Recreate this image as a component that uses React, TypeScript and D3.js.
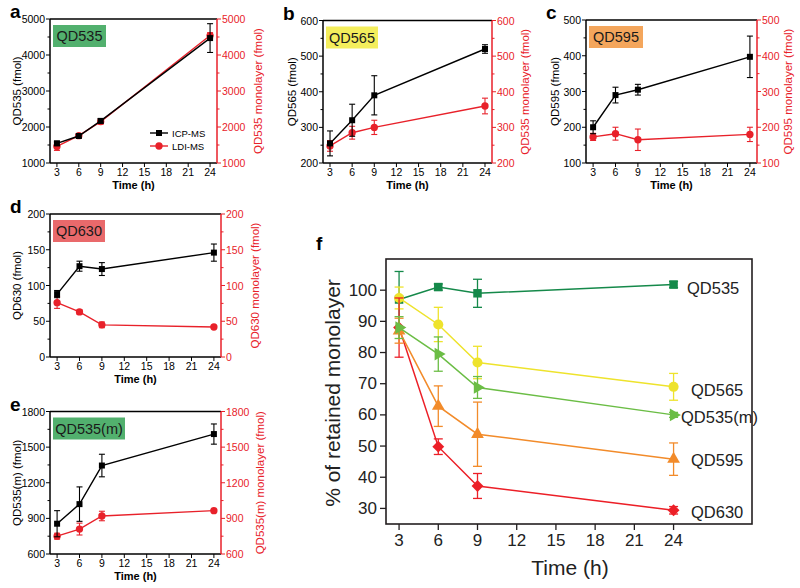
import React from 'react';
import * as d3 from 'd3';

// shared time points (h)
const times = [3, 6, 9, 24];
const xTicks = [3, 6, 9, 12, 15, 18, 21, 24];

// panel a - QD535
const aIcp = [1545, 1750, 2170, 4470];
const aIcpErr = [60, 50, 60, 400];
const aLdi = [1460, 1760, 2150, 4540];
const aLdiErr = [110, 40, 70, 80];

// panel b - QD565
const bIcp = [255, 320, 390, 520];
const bIcpErr = [35, 45, 55, 12];
const bLdi = [248, 285, 300, 360];
const bLdiErr = [15, 18, 20, 22];

// panel c - QD595
const cIcp = [200, 290, 305, 397];
const cIcpErr = [18, 22, 15, 58];
const cLdi = [173, 182, 165, 180];
const cLdiErr = [10, 18, 30, 20];

// panel d - QD630
const dIcp = [88, 127, 123, 146];
const dIcpErr = [5, 7, 9, 12];
const dLdi = [76, 63, 45, 42];
const dLdiErr = [8, 3, 4, 2];

// panel e - QD535(m)
const eIcp = [855, 1020, 1345, 1610];
const eIcpErr = [110, 145, 95, 85];
const eLdi = [750, 810, 920, 965];
const eLdiErr = [25, 50, 40, 10];

// panel f - % retained monolayer
const fNames = ['QD535', 'QD565', 'QD630', 'QD595', 'QD535(m)'];
const fQD535 = [97, 101, 99, 101.8];
const fQD535Err = [9, 1, 4.5, 1];
const fQD565 = [97.5, 89, 76.8, 69];
const fQD565Err = [3.5, 5.5, 5.2, 4.3];
const fQD535m = [88, 79.5, 68.8, 60];
const fQD535mErr = [3.5, 5.5, 3.5, 0.8];
const fQD595 = [87, 62.8, 53.8, 45.8];
const fQD595Err = [4, 6.5, 10.3, 5.2];
const fQD630 = [88, 49.8, 37.2, 29.4];
const fQD630Err = [9.5, 2.5, 4, 1.2];
const fYTicks = [30, 40, 50, 60, 70, 80, 90, 100];

const FONT = '"Liberation Sans", Arial, Helvetica, sans-serif';
const RED = '#e8212a';

type Shape = 'square' | 'circle' | 'triangle' | 'triRight' | 'diamond';

const symbolPath = (shape: Shape, size: number) => {
  const t =
    shape === 'square' ? d3.symbolSquare :
    shape === 'circle' ? d3.symbolCircle :
    shape === 'diamond' ? d3.symbolDiamond2 : d3.symbolTriangle;
  return d3.symbol().type(t).size(size)() as string;
};

interface SmallProps {
  left: number; top: number; width: number; height: number;
  letter: string; name: string; boxColor: string; boxWidth: number;
  domain: [number, number]; step: number;
  icp: number[]; icpErr: number[]; ldi: number[]; ldiErr: number[];
  leftLabel: string; rightLabel: string;
  leftDx: number; rightDx: number;
  legend?: boolean;
}

const SmallPanel: React.FC<SmallProps> = (p) => {
  const x = d3.scaleLinear().domain([2.05, 24.95]).range([p.left, p.left + p.width]);
  const y = d3.scaleLinear().domain(p.domain).range([p.top + p.height, p.top]);
  const R = p.left + p.width;
  const B = p.top + p.height;
  const major = d3.range(p.domain[0], p.domain[1] + 0.001, p.step);
  const minor = d3.range(p.domain[0] + p.step / 2, p.domain[1], p.step);
  const line = d3.line<number>().x((_, i) => x(times[i])).y(v => y(v));
  const sq = symbolPath('square', 36);
  const ci = symbolPath('circle', 42);

  const series = (vals: number[], errs: number[], color: string, shape: string) => (
    <g>
      <path d={line(vals) as string} fill="none" stroke={color} strokeWidth={1.4} />
      {vals.map((v, i) => (
        <g key={i} stroke={color} strokeWidth={1.1}>
          <line x1={x(times[i])} x2={x(times[i])} y1={y(v - errs[i])} y2={y(v + errs[i])} />
          <line x1={x(times[i]) - 3} x2={x(times[i]) + 3} y1={y(v - errs[i])} y2={y(v - errs[i])} />
          <line x1={x(times[i]) - 3} x2={x(times[i]) + 3} y1={y(v + errs[i])} y2={y(v + errs[i])} />
        </g>
      ))}
      {vals.map((v, i) => (
        <path key={'m' + i} d={shape} transform={`translate(${x(times[i])},${y(v)})`} fill={color} />
      ))}
    </g>
  );

  return (
    <g fontFamily={FONT}>
      <text x={p.left - 40} y={p.top - 1} fontSize={19} fontWeight="bold">{p.letter}</text>
      <rect x={p.left + 3} y={p.top + 6} width={p.boxWidth} height={22} fill={p.boxColor} />
      <text x={p.left + 3 + p.boxWidth / 2} y={p.top + 17} fontSize={14.5} textAnchor="middle"
        dominantBaseline="central" fill="#1a1a1a">{p.name}</text>
      {series(p.ldi, p.ldiErr, RED, ci)}
      {series(p.icp, p.icpErr, '#000', sq)}
      {/* frame */}
      <line x1={p.left} x2={R} y1={p.top} y2={p.top} stroke="#000" strokeWidth={1.5} />
      <line x1={p.left} x2={R} y1={B} y2={B} stroke="#000" strokeWidth={1.5} />
      <line x1={p.left} x2={p.left} y1={p.top} y2={B} stroke="#000" strokeWidth={1.5} />
      <line x1={R} x2={R} y1={p.top} y2={B} stroke={RED} strokeWidth={1.5} />
      {/* x axis */}
      {xTicks.map(t => (
        <g key={t}>
          <line x1={x(t)} x2={x(t)} y1={B} y2={B + 4} stroke="#000" strokeWidth={1} />
          <text x={x(t)} y={B + 13} fontSize={10.5} textAnchor="middle">{t}</text>
        </g>
      ))}
      {/* y axes */}
      {major.map(t => (
        <g key={t}>
          <line x1={p.left - 4} x2={p.left} y1={y(t)} y2={y(t)} stroke="#000" strokeWidth={1} />
          <text x={p.left - 5} y={y(t)} fontSize={10.5} textAnchor="end" dominantBaseline="central">{t}</text>
          <line x1={R} x2={R + 4} y1={y(t)} y2={y(t)} stroke={RED} strokeWidth={1} />
          <text x={R + 5} y={y(t)} fontSize={10.5} fill={RED} dominantBaseline="central">{t}</text>
        </g>
      ))}
      {minor.map(t => (
        <g key={'n' + t}>
          <line x1={p.left - 2.5} x2={p.left} y1={y(t)} y2={y(t)} stroke="#000" strokeWidth={1} />
          <line x1={R} x2={R + 2.5} y1={y(t)} y2={y(t)} stroke={RED} strokeWidth={1} />
        </g>
      ))}
      <text transform={`translate(${p.left + p.leftDx},${(p.top + B) / 2}) rotate(-90)`} fontSize={11.5}
        textAnchor="middle" dominantBaseline="central">{p.leftLabel}</text>
      <text transform={`translate(${R + p.rightDx},${(p.top + B) / 2}) rotate(-90)`} fontSize={11.5}
        textAnchor="middle" dominantBaseline="central" fill={RED}>{p.rightLabel}</text>
      <text x={(p.left + R) / 2} y={B + 26} fontSize={11} fontWeight="bold" textAnchor="middle">Time (h)</text>
      {p.legend && (
        <g fontSize={9.5}>
          <line x1={p.left + 100} x2={p.left + 118} y1={B - 30} y2={B - 30} stroke="#000" strokeWidth={1.4} />
          <path d={sq} transform={`translate(${p.left + 109},${B - 30})`} />
          <text x={p.left + 122} y={B - 30} dominantBaseline="central">ICP-MS</text>
          <line x1={p.left + 100} x2={p.left + 118} y1={B - 17} y2={B - 17} stroke={RED} strokeWidth={1.4} />
          <path d={ci} transform={`translate(${p.left + 109},${B - 17})`} fill={RED} />
          <text x={p.left + 122} y={B - 17} dominantBaseline="central">LDI-MS</text>
        </g>
      )}
    </g>
  );
};

const PanelF: React.FC = () => {
  const L = 386, R = 752, T = 259, B = 524;
  const x = d3.scaleLinear().domain([2, 30]).range([L, R]);
  const y = d3.scaleLinear().domain([25, 110]).range([B, T]);
  const line = d3.line<number>().x((_, i) => x(times[i])).y(v => y(v));
  const series = [
    { name: fNames[0], vals: fQD535, errs: fQD535Err, color: '#15894a', shape: 'square' as Shape, size: 72, lx: 687, dy: 3 },
    { name: fNames[1], vals: fQD565, errs: fQD565Err, color: '#eee32c', shape: 'circle' as Shape, size: 80, lx: 691, dy: 3 },
    { name: fNames[2], vals: fQD630, errs: fQD630Err, color: '#ec1f27', shape: 'diamond' as Shape, size: 90, lx: 691, dy: 2 },
    { name: fNames[3], vals: fQD595, errs: fQD595Err, color: '#f28b2a', shape: 'triangle' as Shape, size: 70, lx: 691, dy: 1 },
    { name: fNames[4], vals: fQD535m, errs: fQD535mErr, color: '#6bbd45', shape: 'triRight' as Shape, size: 70, lx: 681, dy: 2 },
  ];
  return (
    <g fontFamily={FONT}>
      <text x={316} y={250} fontSize={19} fontWeight="bold">f</text>
      {series.map(s => (
        <g key={s.name}>
          <path d={line(s.vals) as string} fill="none" stroke={s.color} strokeWidth={1.5} />
          {s.vals.map((v, i) => (
            <g key={i} stroke={s.color} strokeWidth={1.3}>
              <line x1={x(times[i])} x2={x(times[i])} y1={y(v - s.errs[i])} y2={y(v + s.errs[i])} />
              <line x1={x(times[i]) - 4.5} x2={x(times[i]) + 4.5} y1={y(v - s.errs[i])} y2={y(v - s.errs[i])} />
              <line x1={x(times[i]) - 4.5} x2={x(times[i]) + 4.5} y1={y(v + s.errs[i])} y2={y(v + s.errs[i])} />
            </g>
          ))}
          {s.vals.map((v, i) => (
            <path key={'m' + i} d={symbolPath(s.shape, s.size)} fill={s.color}
              transform={`translate(${x(times[i])},${y(v)})${s.shape === 'triRight' ? ' rotate(90)' : ''}`} />
          ))}
          <text x={s.lx} y={y(s.vals[3]) + s.dy} fontSize={16.5} dominantBaseline="central" fill="#222">{s.name}</text>
        </g>
      ))}
      <rect x={L} y={T} width={R - L} height={B - T} fill="none" stroke="#231f20" strokeWidth={1.6} />
      {xTicks.map(t => (
        <g key={t}>
          <line x1={x(t)} x2={x(t)} y1={B} y2={B + 6} stroke="#231f20" strokeWidth={1.3} />
          <text x={x(t)} y={B + 22} fontSize={17} textAnchor="middle" fill="#222">{t}</text>
        </g>
      ))}
      {fYTicks.map(t => (
        <g key={t}>
          <line x1={L - 6} x2={L} y1={y(t)} y2={y(t)} stroke="#231f20" strokeWidth={1.3} />
          <text x={L - 9} y={y(t)} fontSize={17} textAnchor="end" dominantBaseline="central" fill="#222">{t}</text>
        </g>
      ))}
      <text transform={`translate(332,393) rotate(-90)`} fontSize={21} textAnchor="middle"
        dominantBaseline="central" fill="#222">% of retained monolayer</text>
      <text x={570} y={575} fontSize={21} textAnchor="middle" fill="#222">Time (h)</text>
    </g>
  );
};

export default function App() {
  return (
    <svg width={800} height={588} style={{ position: 'absolute', left: 0, top: 0, background: '#fff' }}>
      <rect width={800} height={588} fill="#fff" />
      <SmallPanel left={50} top={19} width={167} height={144} letter="a" name="QD535" boxColor="#52b06e"
        boxWidth={53} domain={[1000, 5000]} step={1000} icp={aIcp} icpErr={aIcpErr} ldi={aLdi} ldiErr={aLdiErr}
        leftLabel="QD535 (fmol)" rightLabel="QD535 monolayer (fmol)" leftDx={-33} rightDx={41} legend />
      <SmallPanel left={323} top={20.5} width={169} height={142.5} letter="b" name="QD565" boxColor="#f4ee5c"
        boxWidth={52} domain={[200, 600]} step={100} icp={bIcp} icpErr={bIcpErr} ldi={bLdi} ldiErr={bLdiErr}
        leftLabel="QD565 (fmol)" rightLabel="QD535 monolayer (fmol)" leftDx={-31} rightDx={33} />
      <SmallPanel left={586} top={20} width={171} height={143} letter="c" name="QD595" boxColor="#f4a65c"
        boxWidth={54} domain={[100, 500]} step={100} icp={cIcp} icpErr={cIcpErr} ldi={cLdi} ldiErr={cLdiErr}
        leftLabel="QD595 (fmol)" rightLabel="QD595 monolayer (fmol)" leftDx={-31} rightDx={31} />
      <SmallPanel left={50} top={214} width={171} height={143} letter="d" name="QD630" boxColor="#e9696b"
        boxWidth={52} domain={[0, 200]} step={50} icp={dIcp} icpErr={dIcpErr} ldi={dLdi} ldiErr={dLdiErr}
        leftLabel="QD630 (fmol)" rightLabel="QD630 monolayer (fmol)" leftDx={-33} rightDx={34} />
      <SmallPanel left={50} top={411.5} width={171} height={142.5} letter="e" name="QD535(m)" boxColor="#52b06e"
        boxWidth={72} domain={[600, 1800]} step={300} icp={eIcp} icpErr={eIcpErr} ldi={eLdi} ldiErr={eLdiErr}
        leftLabel="QD535(m) (fmol)" rightLabel="QD535(m) monolayer (fmol)" leftDx={-33} rightDx={39} />
      <PanelF />
    </svg>
  );
}
